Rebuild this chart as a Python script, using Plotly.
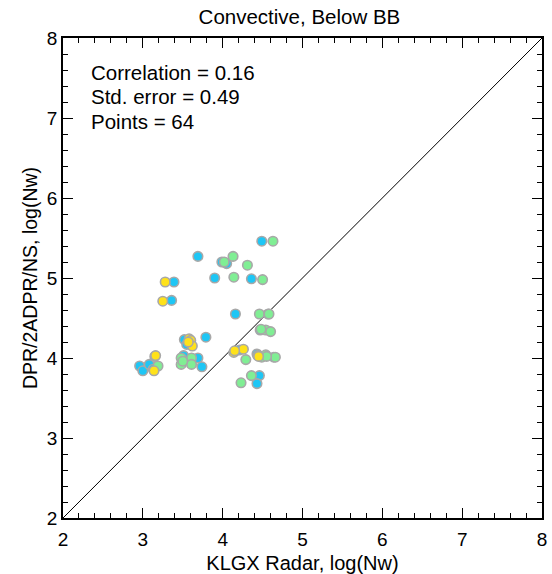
import plotly.graph_objects as go

# values (log Nw)
blue_x = [3.69, 3.39, 3.36, 3.90, 3.99, 4.05, 4.49, 4.36, 3.52, 3.55, 3.79,
          2.96, 3.00, 3.08, 3.69, 3.74, 3.51, 4.16, 4.57, 4.47, 4.21, 4.43,
          4.64, 4.46, 4.43, 3.15, 3.13, 4.44]
blue_y = [5.27, 4.95, 4.72, 5.00, 5.20, 5.18, 5.46, 4.99, 4.23, 4.17, 4.26,
          3.90, 3.84, 3.92, 4.00, 3.89, 4.03, 4.55, 4.55, 4.35, 4.10, 4.05,
          4.01, 3.78, 3.68, 4.02, 3.86, 4.03]
green_x = [4.02, 4.13, 4.14, 4.63, 4.31, 4.50, 3.19, 3.48, 3.48, 3.61, 3.61,
           4.46, 4.58, 4.54, 4.60, 4.29, 4.49, 4.54, 4.66, 4.36, 4.23, 3.50,
           4.48, 4.55]
green_y = [5.20, 5.27, 5.01, 5.46, 5.16, 4.98, 3.90, 4.00, 3.92, 4.00, 3.92,
           4.55, 4.55, 4.35, 4.33, 3.98, 4.01, 4.04, 4.01, 3.78, 3.69, 3.96,
           4.36, 4.02]
yellow_x = [3.28, 3.25, 3.58, 3.60, 3.62, 3.16, 3.14, 4.14, 4.26, 4.45, 3.57, 4.15]
yellow_y = [4.95, 4.71, 4.24, 4.22, 4.15, 4.03, 3.84, 4.07, 4.11, 4.02, 4.20, 4.09]

stats = ["Correlation = 0.16", "Std. error = 0.49", "Points = 64"]
stat_y = [7.575, 7.275, 6.96]

font = "Liberation Sans, Arial, sans-serif"
outline = dict(color="#a8a8a8", width=1.6)

fig = go.Figure()

# 1:1 line
fig.add_trace(go.Scatter(x=[2, 8], y=[2, 8], mode="lines",
                         line=dict(color="black", width=1), hoverinfo="skip"))

for xs, ys, col in [(blue_x, blue_y, "#1ec6f5"),
                    (green_x, green_y, "#80ee94"),
                    (yellow_x, yellow_y, "#ffe21a")]:
    fig.add_trace(go.Scatter(x=xs, y=ys, mode="markers",
                             marker=dict(size=9.5, color=col, line=outline)))

for txt, yy in zip(stats, stat_y):
    fig.add_annotation(x=2.33, y=yy, text=txt, showarrow=False,
                       xanchor="left", yanchor="middle",
                       font=dict(size=20.5, color="black", family=font))

axis = dict(range=[2, 8], dtick=1, ticks="inside", ticklen=10, tickwidth=1.2,
            tickcolor="black", mirror="ticks", showline=True, linecolor="black",
            linewidth=1.8, showgrid=False, zeroline=False, automargin=False,
            tickfont=dict(size=19, color="black", family=font),
            minor=dict(dtick=0.2, ticks="inside", ticklen=5, tickcolor="black",
                       tickwidth=1.2, showgrid=False))

fig.update_layout(
    width=552, height=574,
    margin=dict(l=63, r=10, t=38, b=56),
    plot_bgcolor="white", paper_bgcolor="white",
    showlegend=False,
    title=dict(text="Convective, Below BB", x=0.5425, xanchor="center",
               xref="container", y=0.971, yanchor="middle", automargin=False,
               font=dict(size=20.5, color="black", family=font)),
    xaxis=dict(axis, ticklabelstandoff=3,
               title=dict(text="KLGX Radar, log(Nw)", standoff=10,
                          font=dict(size=20, color="black", family=font))),
    yaxis=dict(axis, title=dict(text="DPR/2ADPR/NS, log(Nw)", standoff=4,
                                font=dict(size=19.5, color="black", family=font))),
)

# drop the default page margin so the figure sits at the window's corner
fig.write_html("out.html", config={"displayModeBar": False},
               post_script="document.body.style.margin='0';"
                           "document.body.style.overflow='hidden';")
